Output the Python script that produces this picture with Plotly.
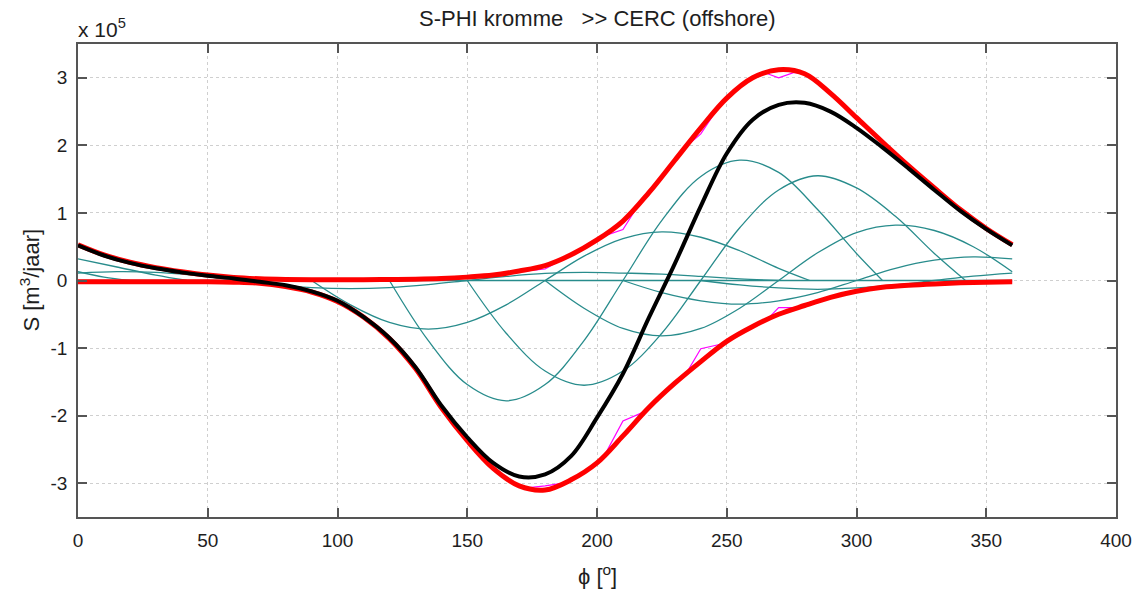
import plotly.graph_objects as go

# ---------------- data (S in units of 1e5 m3/jaar, phi in degrees) ----------------
# individual wave-class transport curves (teal); None splits wrapped segments
T1_PHI = [60, 75, 90, 105, 120, 135, 150, 165, 180, 195, 210, 225, 240, 255, 270]
T1_E5 = [0, -0.06, -0.104, -0.12, -0.104, -0.06, 0, 0.06, 0.104, 0.12, 0.11, 0.095, 0.06, 0.025, 0]
T2_PHI = [90, 105, 120, 135, 150, 165, 180, 195, 210, 225, 240, 255, 270, 282]
T2_E5 = [0, -0.36, -0.62, -0.72, -0.62, -0.36, 0, 0.36, 0.62, 0.72, 0.64, 0.44, 0.18, 0]
T3_PHI = [120, 135, 150, 165, 180, 195, 210, 225, 240, 255, 270, 285, 300, 310]
T3_E5 = [0, -0.89, -1.54, -1.78, -1.54, -0.89, 0, 0.89, 1.54, 1.78, 1.6, 1.05, 0.4, 0]
T4_PHI = [150, 165, 180, 195, 210, 225, 240, 255, 270, 285, 300, 315, 330, 342]
T4_E5 = [0, -0.78, -1.34, -1.55, -1.34, -0.78, 0, 0.78, 1.34, 1.55, 1.37, 0.95, 0.4, 0]
T5_PHI = [180, 195, 210, 225, 240, 255, 270, 285, 300, 315, 330, 345, 360, None, 0, 10, 20]
T5_E5 = [0, -0.41, -0.71, -0.82, -0.71, -0.41, 0, 0.41, 0.71, 0.82, 0.74, 0.5, 0.13, None, 0.13, 0.05, 0]
T6_PHI = [210, 225, 240, 255, 270, 285, 300, 315, 330, 345, 360, None, 0, 15, 30, 42]
T6_E5 = [0, -0.18, -0.3, -0.35, -0.3, -0.18, 0, 0.18, 0.3, 0.35, 0.32, None, 0.32, 0.2, 0.08, 0]
T7_PHI = [240, 255, 270, 285, 300, 315, 330, 345, 360, None, 0, 15, 30, 45, 60, 72]
T7_E5 = [0, -0.065, -0.11, -0.13, -0.11, -0.065, 0, 0.065, 0.11, None, 0.11, 0.13, 0.12, 0.08, 0.035, 0]
T0_PHI = [0, 360]
T0_E5 = [0, 0]

# grid for net transport and envelopes
PHI10 = [0, 10, 20, 30, 40, 50, 60, 70, 80, 90, 100, 110, 120, 130, 140, 150, 160, 170, 180,
         190, 200, 210, 220, 230, 240, 250, 260, 270, 280, 290, 300, 310, 320, 330, 340, 350, 360]
# net transport (black)
NET_E5 = [0.52, 0.37, 0.26, 0.18, 0.12, 0.07, 0.03, -0.02, -0.07, -0.16, -0.30, -0.54, -0.85,
          -1.28, -1.85, -2.32, -2.7, -2.9, -2.87, -2.6, -2.03, -1.38, -0.55, 0.25, 1.1, 1.88,
          2.38, 2.6, 2.63, 2.5, 2.26, 1.97, 1.66, 1.34, 1.03, 0.76, 0.52]
# positive envelope (red)
POS_E5 = [0.53, 0.38, 0.27, 0.19, 0.13, 0.08, 0.045, 0.025, 0.015, 0.01, 0.01, 0.01, 0.015,
          0.02, 0.03, 0.05, 0.08, 0.14, 0.22, 0.38, 0.6, 0.88, 1.3, 1.78, 2.26, 2.7, 3.0,
          3.12, 3.06, 2.77, 2.41, 2.05, 1.7, 1.37, 1.05, 0.77, 0.53]
# negative envelope (red)
NEG_E5 = [-0.02, -0.02, -0.02, -0.02, -0.02, -0.02, -0.025, -0.04, -0.09, -0.17, -0.31, -0.54,
          -0.86, -1.3, -1.88, -2.37, -2.78, -3.04, -3.1, -2.95, -2.7, -2.3, -1.88, -1.52, -1.2,
          -0.9, -0.68, -0.5, -0.37, -0.25, -0.16, -0.1, -0.07, -0.05, -0.035, -0.025, -0.02]

# coarse envelopes (magenta)
MAG_UP_PHI = [0, 10, 20, 30, 40, 50, 60, 70, 80, 90, 100, 110, 120, 130, 140, 150, 160, 170,
              180, 190, 202, 210, 216, 220, 230, 234, 240, 248, 250, 260, 265, 270, 276, 280,
              290, 300, 310, 320, 330, 340, 350, 360]
MAG_UP_E5 = [0.53, 0.38, 0.27, 0.19, 0.13, 0.08, 0.045, 0.025, 0.015, 0.01, 0.01, 0.01, 0.015,
             0.02, 0.03, 0.05, 0.08, 0.13, 0.17, 0.38, 0.65, 0.755, 1.12, 1.3, 1.78, 1.97, 2.17,
             2.63, 2.7, 3.0, 3.07, 3.0, 3.08, 3.06, 2.77, 2.41, 2.05, 1.7, 1.37, 1.05, 0.77, 0.53]
MAG_LO_PHI = [0, 10, 20, 30, 40, 50, 60, 70, 80, 90, 100, 110, 120, 130, 140, 150, 160, 170,
              173, 180, 187, 190, 200, 203, 210, 219, 220, 230, 234, 240, 248, 250, 260, 266,
              270, 276, 280, 290, 300, 310, 320, 330, 340, 350, 360]
MAG_LO_E5 = [-0.02, -0.02, -0.02, -0.02, -0.02, -0.02, -0.025, -0.04, -0.09, -0.17, -0.31, -0.54,
             -0.86, -1.3, -1.88, -2.37, -2.78, -3.04, -3.07, -3.04, -3.0, -2.95, -2.7, -2.58,
             -2.08, -1.93, -1.88, -1.52, -1.4, -1.01, -0.94, -0.9, -0.68, -0.56, -0.40, -0.40,
             -0.37, -0.25, -0.16, -0.1, -0.07, -0.05, -0.035, -0.025, -0.02]

X_TICKS = [0, 50, 100, 150, 200, 250, 300, 350, 400]
Y_TICKS = [-3, -2, -1, 0, 1, 2, 3]
Y_TICK_TEXT = ["-3", "-2", "-1", "0", "1", "2", "3"]

FONT = "Liberation Sans, Arial, Helvetica, sans-serif"
TXT = "#1e1e1e"
TEAL = "rgb(40,140,140)"

fig = go.Figure()
teal = [(T0_PHI, T0_E5), (T1_PHI, T1_E5), (T2_PHI, T2_E5), (T3_PHI, T3_E5),
        (T4_PHI, T4_E5), (T5_PHI, T5_E5), (T6_PHI, T6_E5), (T7_PHI, T7_E5)]
for xs, ys in teal:
    fig.add_trace(go.Scatter(x=xs, y=ys, mode="lines", connectgaps=False,
                             line=dict(color=TEAL, width=1.3, shape="spline"),
                             hoverinfo="skip"))
fig.add_trace(go.Scatter(x=MAG_UP_PHI, y=MAG_UP_E5, mode="lines",
                         line=dict(color="#ff00ff", width=1.2)))
fig.add_trace(go.Scatter(x=MAG_LO_PHI, y=MAG_LO_E5, mode="lines",
                         line=dict(color="#ff00ff", width=1.2)))
fig.add_trace(go.Scatter(x=PHI10, y=POS_E5, mode="lines",
                         line=dict(color="#ff0000", width=5, shape="spline")))
fig.add_trace(go.Scatter(x=PHI10, y=NEG_E5, mode="lines",
                         line=dict(color="#ff0000", width=5, shape="spline")))
fig.add_trace(go.Scatter(x=PHI10, y=NET_E5, mode="lines",
                         line=dict(color="#000000", width=4, shape="spline")))

axis_common = dict(
    showline=True, linecolor="#555555", linewidth=1.5, mirror="ticks",
    ticks="inside", ticklen=9, tickwidth=1.5, tickcolor="#555555",
    showgrid=True, gridcolor="#cfcfcf", griddash="dot", gridwidth=1,
    zeroline=False, tickfont=dict(family=FONT, size=19, color=TXT),
)

fig.update_xaxes(range=[0, 400], tickvals=X_TICKS, ticklabelstandoff=5, **axis_common)
fig.update_yaxes(range=[-3.5, 3.5], tickvals=Y_TICKS, ticktext=Y_TICK_TEXT,
                 ticklabelstandoff=5, **axis_common)

fig.update_layout(
    width=1144, height=592,
    margin=dict(l=78, r=26, t=44, b=75),
    plot_bgcolor="white", paper_bgcolor="white",
    showlegend=False,
    font=dict(family=FONT, color=TXT),
    annotations=[
        dict(text="S-PHI kromme\u00a0\u00a0\u00a0>> CERC (offshore)", xref="paper", yref="paper",
             x=0.5, y=1 + 26 / 473, xanchor="center", yanchor="middle", showarrow=False,
             font=dict(family=FONT, size=22, color=TXT)),
        dict(text="x 10<sup>5</sup>", xref="paper", yref="paper",
             x=-2 / 1040, y=1 + 16 / 473, xanchor="left", yanchor="middle", showarrow=False,
             font=dict(family=FONT, size=21, color=TXT)),
        dict(text="\u03d5 [<sup>o</sup>]", xref="paper", yref="paper",
             x=0.5, y=-58 / 473, xanchor="center", yanchor="middle", showarrow=False,
             font=dict(family=FONT, size=22, color=TXT)),
        dict(text="S [m<sup>3</sup>/jaar]", xref="paper", yref="paper",
             x=-49 / 1040, y=0.5, xanchor="center", yanchor="middle", showarrow=False,
             textangle=-90, font=dict(family=FONT, size=22, color=TXT)),
    ],
)

fig.write_html("out.html")
